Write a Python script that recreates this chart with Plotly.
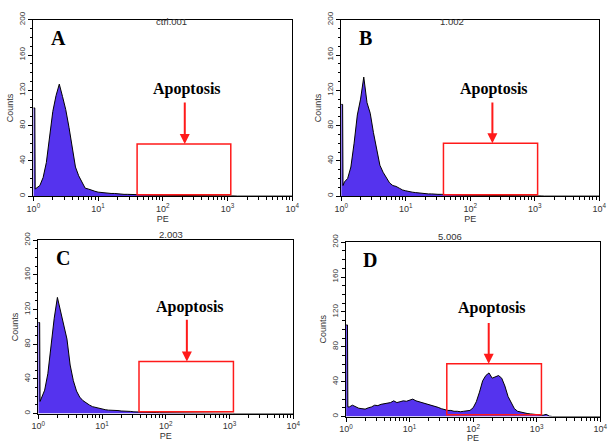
import plotly.graph_objects as go
import math

# ---------------- data ----------------
# histogram channel positions (log10 of PE intensity)
pe_log = [0.00, 0.022, 0.028,
          0.05, 0.10, 0.15, 0.20, 0.25, 0.30, 0.35, 0.40, 0.45, 0.50,
          0.55, 0.60, 0.65, 0.70, 0.75, 0.80, 0.85, 0.90, 0.95, 1.00,
          1.05, 1.10, 1.15, 1.20, 1.25, 1.30, 1.35, 1.40, 1.45, 1.50,
          1.55, 1.60, 1.65, 1.70, 1.75, 1.80, 1.85, 1.90, 1.95, 2.00,
          2.05, 2.10, 2.15, 2.20, 2.25, 2.30, 2.35, 2.40, 2.45, 2.50,
          2.55, 2.60, 2.65, 2.70, 2.75, 2.80, 2.85, 2.90, 2.95, 3.00,
          3.05, 3.10, 3.15, 3.20, 3.25, 3.30, 3.35, 3.40, 3.45, 3.50,
          3.55, 3.60, 3.65, 3.70, 3.75, 3.80, 3.85, 3.90, 3.95, 4.00]

counts_A = [100, 100, 8,
            9, 12, 21, 38, 67, 96, 114, 127, 113, 98,
            78, 54, 33, 23, 15, 9, 8, 6.5, 5.5, 4.5,
            4, 3.5, 3.5, 3, 3, 2.5, 2.5, 2, 2, 2,
            2, 1.5, 1.5, 1.5, 1.2, 1.2, 1, 1, 1, 1,
            0.8, 0.8, 0.8, 0.7, 0.7, 0.7, 0.7, 0.6, 0.6, 0.6,
            0.5, 0.5, 0.5, 0.5, 0.5, 0.4, 0.4, 0.4, 0.4, 0.3,
            0.3, 0.2, 0, 0, 0, 0, 0, 0, 0, 0,
            0, 0, 0, 0, 0, 0, 0, 0, 0, 0]

counts_B = [104, 104, 12,
            16, 20, 33, 60, 92, 110, 135, 106, 94, 72,
            52, 35, 27, 21, 15, 12, 11, 9, 7, 6,
            5, 4.5, 4, 3.5, 3, 3, 2.5, 2.5, 2, 2,
            2, 2, 1.5, 1.5, 1.5, 1.2, 1.2, 1, 1, 1,
            1, 1, 0.8, 0.8, 0.8, 0.7, 0.7, 0.7, 0.6, 0.6,
            0.6, 0.5, 0.5, 0.5, 0.5, 0.4, 0.4, 0.4, 0.3, 0.3,
            0.2, 0.2, 0, 0, 0, 0, 0, 0, 0, 0,
            0, 0, 0, 0, 0, 0, 0, 0, 0, 0]

counts_C = [105, 105, 14,
            18, 27, 46, 78, 110, 134, 118, 100, 86, 56,
            38, 26, 19, 15, 12, 10, 8, 7, 6, 5,
            4.5, 4, 4, 3.5, 3.5, 3, 3, 2.5, 2.5, 2,
            2, 2, 1.5, 1.5, 1.5, 1.2, 1.2, 1, 1, 1,
            1, 0.8, 0.8, 0.8, 0.7, 0.7, 0.7, 0.6, 0.6, 0.6,
            0.5, 0.5, 0.5, 0.5, 0.4, 0.4, 0.4, 0.3, 0.3, 0.3,
            0.2, 0, 0, 0, 0, 0, 0, 0, 0, 0,
            0, 0, 0, 0, 0, 0, 0, 0, 0, 0]

counts_D = [105, 105, 11,
            11, 13, 11, 9.5, 9, 8.5, 10, 11, 13, 12.5,
            14, 14.5, 15, 16, 18, 16, 17, 18, 17.5, 19,
            20, 18, 17, 16, 15, 14, 13, 12, 10.5, 9,
            8, 7, 7, 6, 6, 5.5, 6, 6.5, 7, 10,
            17, 28, 41, 47, 50, 44, 46, 47, 44, 35,
            23, 15, 9, 6, 5, 4, 3.5, 3, 2.5, 2,
            1.5, 1.5, 2.5, 0.5, 0, 0, 0, 0, 0, 0,
            0, 0, 0, 0, 0, 0, 0, 0, 0, 0]

panel_titles = ["ctrl.001", "1.002", "2.003", "5.006"]
panel_letters = ["A", "B", "C", "D"]
panel_counts = [counts_A, counts_B, counts_C, counts_D]

# apoptosis gate (PE range, count range) and arrow position
gate_lo = [40, 38.5, 38, 38.5]
gate_hi = [1120, 1110, 1150, 1190]
gate_bottom = [1.5, 1.5, 2, 2]
gate_top = [59, 60, 60, 60.5]
arrow_pe = [218, 221, 214, 176]
arrow_tail = [108, 108, 110, 109]
label_pe = [234, 231, 237, 195]
label_count = [122, 122, 123, 124]

x_tick_vals = [1, 10, 100, 1000, 10000]
x_tick_text = ["10<sup>0</sup>", "10<sup>1</sup>", "10<sup>2</sup>", "10<sup>3</sup>", "10<sup>4</sup>"]
y_tick_vals = [0, 40, 80, 120, 160, 200]

# ---------------- layout geometry ----------------
W, H = 614, 443
px_boxes = [(27, 292, 12, 192), (342, 606, 12, 192), (32, 293, 237, 414), (347, 607, 239, 417)]
title_pos = [(150, 6), (470, 6), (153, 231), (468, 233)]

FILL = "#5533ee"
SANS = "Liberation Sans, Arial, sans-serif"
SERIF = "Liberation Serif, Times New Roman, serif"
GREY = "#333333"

minor_x = [m * 10 ** d for d in range(4) for m in range(2, 10)]

fig = go.Figure()
layout = dict(width=W, height=H, margin=dict(l=0, r=0, t=0, b=0),
              paper_bgcolor="white", plot_bgcolor="white", showlegend=False)
annotations = []
shapes = []

for i in range(4):
    n = "" if i == 0 else str(i + 1)
    xa, ya = "x" + n, "y" + n
    x0, x1, y0, y1 = px_boxes[i]
    fig.add_trace(go.Scatter(
        x=[10 ** v for v in pe_log], y=panel_counts[i],
        mode="lines", line=dict(color="black", width=1),
        fill="tozeroy", fillcolor=FILL, xaxis=xa, yaxis=ya,
        cliponaxis=False, hoverinfo="skip"))
    layout["xaxis" + n] = dict(
        type="log", range=[0, 4], domain=[x0 / W, x1 / W], anchor=ya,
        tickvals=x_tick_vals, ticktext=x_tick_text, ticks="outside", ticklen=4,
        tickcolor="black", tickfont=dict(family=SANS, size=9, color=GREY),
        minor=dict(tickvals=minor_x, ticks="outside", ticklen=3, tickcolor="black"),
        showline=True, linecolor="black", linewidth=1, mirror=True,
        showgrid=False, zeroline=False,
        title=dict(text="PE", font=dict(family=SANS, size=9, color=GREY), standoff=0))
    layout["yaxis" + n] = dict(
        range=[0, 200], domain=[1 - y1 / H, 1 - y0 / H], anchor=xa,
        tickvals=y_tick_vals, ticks="outside", ticklen=4, tickcolor="black",
        tickangle=-90, tickfont=dict(family=SANS, size=8, color=GREY),
        minor=dict(dtick=10, ticks="outside", ticklen=2.5, tickcolor="black"),
        showline=True, linecolor="black", linewidth=1.3, mirror=True,
        showgrid=False, zeroline=False,
        title=dict(text="Counts", font=dict(family=SANS, size=9, color=GREY), standoff=2))
    # gate rectangle
    shapes.append(dict(type="rect", xref=xa, yref=ya,
                       x0=gate_lo[i], x1=gate_hi[i], y0=gate_bottom[i], y1=gate_top[i],
                       line=dict(color="#ff1a1a", width=1.5), fillcolor="rgba(0,0,0,0)"))
    # arrow
    annotations.append(dict(xref=xa, yref=ya, axref=xa, ayref=ya,
                            x=math.log10(arrow_pe[i]), y=gate_top[i],
                            ax=math.log10(arrow_pe[i]), ay=arrow_tail[i],
                            text="", showarrow=True, arrowhead=2, arrowsize=1,
                            arrowwidth=2, arrowcolor="#ff1a1a"))
    annotations.append(dict(xref=xa, yref=ya, x=math.log10(label_pe[i]), y=label_count[i],
                            text="<b>Apoptosis</b>", showarrow=False,
                            font=dict(family=SERIF, size=16, color="black")))
    annotations.append(dict(xref=xa + " domain", yref=ya + " domain", x=0.06, y=0.895,
                            xanchor="left", yanchor="middle",
                            text="<b>" + panel_letters[i] + "</b>", showarrow=False,
                            font=dict(family=SERIF, size=20, color="black")))
    tx, ty = title_pos[i]
    annotations.append(dict(xref="paper", yref="paper", x=tx / W, y=1 - ty / H,
                            text=panel_titles[i], showarrow=False,
                            font=dict(family=SANS, size=9.5, color=GREY)))

layout["annotations"] = annotations
layout["shapes"] = shapes
fig.update_layout(**layout)
fig.write_html("out.html")
